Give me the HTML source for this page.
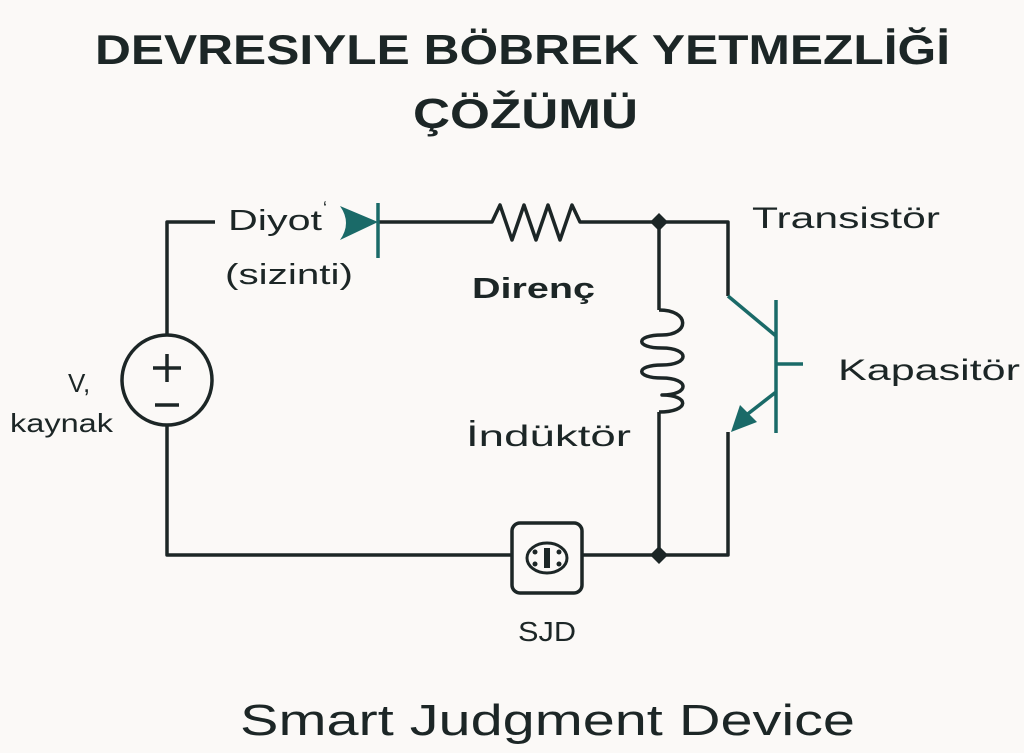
<!DOCTYPE html>
<html><head><meta charset="utf-8"><style>html,body{margin:0;padding:0;background:#fbf9f7}svg{display:block}</style></head>
<body>
<svg width="1024" height="753" viewBox="0 0 1024 753" xmlns="http://www.w3.org/2000/svg" font-family="Liberation Sans, DejaVu Sans, sans-serif">
<rect width="1024" height="753" fill="#fbf9f7"/>
<g fill="#1c2626">
<text x="95" y="64" font-size="42" font-weight="bold" textLength="855" lengthAdjust="spacingAndGlyphs">DEVRESIYLE BÖBREK YETMEZLİĞİ</text>
<text x="413" y="128" font-size="42" font-weight="bold" textLength="225" lengthAdjust="spacingAndGlyphs">ÇÖŽÜMÜ</text>
<text x="240" y="735" font-size="44" textLength="615" lengthAdjust="spacingAndGlyphs">Smart Judgment Device</text>
<text x="228" y="230" font-size="29" textLength="94" lengthAdjust="spacingAndGlyphs">Diyot</text>
<text x="323" y="215" font-size="18">ʻ</text>
<text x="225" y="284" font-size="29" textLength="128" lengthAdjust="spacingAndGlyphs">(sizinti)</text>
<text x="472" y="298" font-size="29" font-weight="bold" textLength="123" lengthAdjust="spacingAndGlyphs">Direnç</text>
<text x="752" y="228" font-size="30" textLength="188" lengthAdjust="spacingAndGlyphs">Transistör</text>
<text x="838" y="380" font-size="30" textLength="182" lengthAdjust="spacingAndGlyphs">Kapasitör</text>
<text x="466" y="446" font-size="30" textLength="165" lengthAdjust="spacingAndGlyphs">İndüktör</text>
<text x="68" y="392" font-size="26">V,</text>
<text x="10" y="432" font-size="26" textLength="103" lengthAdjust="spacingAndGlyphs">kaynak</text>
<text x="518" y="641" font-size="28" textLength="58" lengthAdjust="spacingAndGlyphs">SJD</text>
</g>
<g fill="none" stroke="#1c2626" stroke-width="3.5" stroke-linejoin="round">
<path d="M215 222 H167 V335 M167 425 V555 H512 M582 555 H728 V432"/>
<path d="M378 222 H492 L500 205 L512 240 L524 205 L536 240 L548 205 L560 240 L572 205 L580 222 H728 V296"/>
<path d="M659 222 V310 M659 412 V555"/>
<path d="M659 310 C690 310 690 335 662 335 C635 335 635 348 662 348 C690 348 690 365 662 365 C635 365 635 378 662 378 C690 378 690 395 662 395 C690 395 690 412 659 412"/>
<circle cx="167" cy="380" r="45"/>
<path d="M153 368 H181 M167 354 V382 M155 405 H179"/>
<rect x="512" y="523" width="70" height="70" rx="8"/>
<ellipse cx="547" cy="558" rx="20" ry="15" stroke-width="3"/>
</g>
<g fill="#1c2626"><rect x="544" y="548" width="6" height="20"/><circle cx="535" cy="552" r="2.5"/><circle cx="559" cy="552" r="2.5"/><circle cx="535" cy="564" r="2.5"/><circle cx="559" cy="564" r="2.5"/>
<path d="M659 213 L668 222 L659 231 L650 222Z"/><path d="M659 546 L668 555 L659 564 L650 555Z"/></g>
<g stroke="#1a6a68" stroke-width="3.5" fill="none">
<path d="M378 203 V258"/>
<path d="M728 296 L776 336 M776 300 V433 M776 364 H803 M776 392 L740 420"/>
</g>
<g fill="#1a6a68">
<path d="M340 206 L378 222 L340 240 Q352 223 340 206Z"/>
<path d="M731 432 L740 405 L757 422Z"/>
</g>
</svg>
</body></html>
